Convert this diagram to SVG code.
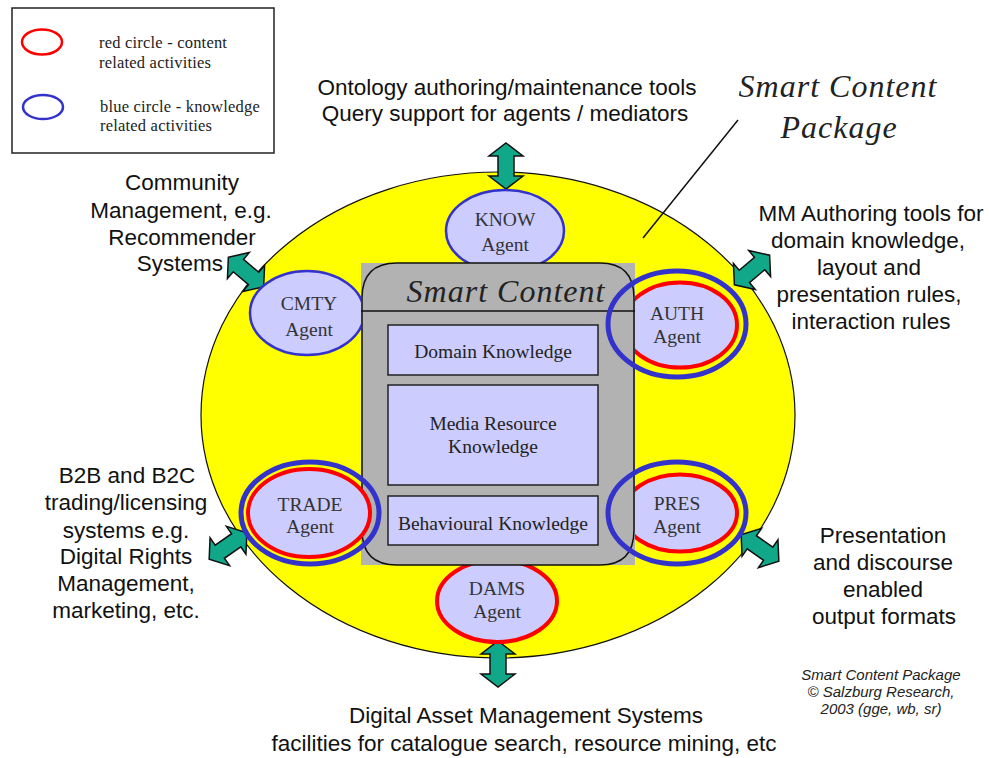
<svg xmlns="http://www.w3.org/2000/svg" width="989" height="758" viewBox="0 0 989 758">
<style>
.sans{font-family:"Liberation Sans",Arial,sans-serif;font-size:22.5px;fill:#111;text-anchor:middle}
.serif{font-family:"Liberation Serif","Times New Roman",serif;fill:#222}
.leg{font-size:16.5px;letter-spacing:0.2px}
.kb{font-size:19.5px;text-anchor:middle}
.agent{font-family:"Liberation Serif","Times New Roman",serif;font-size:19.5px;fill:#333;text-anchor:middle}
.box{fill:#ccccff;stroke:#222;stroke-width:1.5}
.lav{fill:#ccccff}
.blue{fill:none;stroke:#3333cc;stroke-width:5}
.red{stroke:#ff0000;stroke-width:4}
.title{font-family:"Liberation Serif","Times New Roman",serif;font-style:italic;font-size:32px;fill:#222;text-anchor:middle;letter-spacing:1px}
.arrow{fill:#10a888;stroke:#111;stroke-width:1.5;stroke-linejoin:miter}
</style>
<defs>
<path id="dbl" d="M -23,0 L -10,-17 L -10,-8 L 10,-8 L 10,-17 L 23,0 L 10,17 L 10,8 L -10,8 L -10,17 Z"/>
</defs>
<rect width="989" height="758" fill="#fff"/>

<g id="legend">
<rect x="12" y="8" width="262" height="145" fill="#fff" stroke="#222" stroke-width="1.5"/>
<ellipse cx="42" cy="42" rx="20" ry="12.5" fill="none" stroke="#ff0000" stroke-width="2.5"/>
<ellipse cx="43" cy="107" rx="20" ry="12" fill="none" stroke="#3333cc" stroke-width="2.5"/>
<text class="serif leg" x="99" y="48">red circle - content</text>
<text class="serif leg" x="99" y="68">related activities</text>
<text class="serif leg" x="100" y="112">blue circle - knowledge</text>
<text class="serif leg" x="100" y="131">related activities</text>
</g>

<g id="package">
<ellipse cx="498" cy="415" rx="297" ry="243" fill="#ffff00" stroke="#111" stroke-width="1.2"/>
<text class="title" x="838" y="97">Smart Content</text>
<text class="title" x="839" y="138">Package</text>
</g>

<g id="connectors">
<line x1="643" y1="238" x2="738" y2="120" stroke="#111" stroke-width="1.5"/>
<use href="#dbl" class="arrow" transform="translate(506,166) rotate(90)"/>
<use href="#dbl" class="arrow" transform="translate(498,664) rotate(90)"/>
<use href="#dbl" class="arrow" transform="translate(246,272) rotate(40)"/>
<use href="#dbl" class="arrow" transform="translate(752,270) rotate(-40)"/>
<use href="#dbl" class="arrow" transform="translate(228,546) rotate(-35)"/>
<use href="#dbl" class="arrow" transform="translate(760,548) rotate(35)"/>
</g>

<g id="know">
<ellipse cx="505" cy="231" rx="59" ry="41" class="lav" stroke="#3333cc" stroke-width="2.5"/>
<text class="agent" x="505" y="226">KNOW</text>
<text class="agent" x="505" y="251">Agent</text>
</g>
<g id="cmty">
<ellipse cx="307" cy="313" rx="57" ry="42" class="lav" stroke="#3333cc" stroke-width="2.5"/>
<text class="agent" x="309" y="310">CMTY</text>
<text class="agent" x="309" y="336">Agent</text>
</g>
<g id="dams">
<ellipse cx="497" cy="601" rx="60" ry="41" class="lav red"/>
<text class="agent" x="497" y="595">DAMS</text>
<text class="agent" x="497" y="618">Agent</text>
</g>
<g id="auth-inner">
<ellipse cx="680" cy="325" rx="57" ry="42.5" class="lav red"/>
</g>
<g id="pres-inner">
<ellipse cx="680" cy="513" rx="57" ry="38.5" class="lav red"/>
</g>

<g id="smart-content">
<rect x="361" y="263" width="274" height="302" fill="#b2b2b2"/>
<path d="M 397,263 L 600,263 Q 634,263 634,298 L 634,530 Q 634,565 600,565 L 397,565 Q 362,565 362,530 L 362,298 Q 362,263 397,263 Z" fill="none" stroke="#111" stroke-width="1.5"/>
<line x1="361" y1="311" x2="635" y2="311" stroke="#111" stroke-width="1.5"/>
<text class="title" x="506" y="302">Smart Content</text>
<rect x="388" y="325" width="210" height="50" class="box"/>
<text class="serif kb" x="493" y="358">Domain Knowledge</text>
<rect x="388" y="385" width="210" height="100" class="box"/>
<text class="serif kb" x="493" y="430">Media Resource</text>
<text class="serif kb" x="493" y="453">Knowledge</text>
<rect x="388" y="496" width="210" height="49" class="box"/>
<text class="serif kb" x="493" y="530">Behavioural Knowledge</text>
</g>

<g id="auth">
<ellipse cx="677" cy="324" rx="69" ry="53" class="blue"/>
<text class="agent" x="677" y="320">AUTH</text>
<text class="agent" x="677" y="343">Agent</text>
</g>
<g id="pres">
<ellipse cx="677" cy="513" rx="69" ry="51" class="blue"/>
<text class="agent" x="677" y="510">PRES</text>
<text class="agent" x="677" y="533">Agent</text>
</g>
<g id="trade">
<ellipse cx="309" cy="513" rx="61" ry="44" class="lav red"/>
<ellipse cx="310" cy="513" rx="69" ry="51" class="blue"/>
<text class="agent" x="310" y="511">TRADE</text>
<text class="agent" x="310" y="533">Agent</text>
</g>

<g id="labels">
<text class="sans" x="507" y="95">Ontology authoring/maintenance tools</text>
<text class="sans" x="505" y="121">Query support for agents / mediators</text>
<text class="sans" x="182" y="190">Community</text>
<text class="sans" x="181" y="218">Management, e.g.</text>
<text class="sans" x="182" y="245">Recommender</text>
<text class="sans" x="223" y="271" text-anchor="end" style="text-anchor:end">Systems</text>
<text class="sans" x="871" y="221">MM Authoring tools for</text>
<text class="sans" x="868" y="248">domain knowledge,</text>
<text class="sans" x="869" y="275">layout and</text>
<text class="sans" x="869" y="302">presentation rules,</text>
<text class="sans" x="871" y="329">interaction rules</text>
<text class="sans" x="127" y="483">B2B and B2C</text>
<text class="sans" x="126" y="510">trading/licensing</text>
<text class="sans" x="126" y="538">systems e.g.</text>
<text class="sans" x="126" y="564">Digital Rights</text>
<text class="sans" x="126" y="591">Management,</text>
<text class="sans" x="126" y="618">marketing, etc.</text>
<text class="sans" x="883" y="543">Presentation</text>
<text class="sans" x="883" y="570">and discourse</text>
<text class="sans" x="883" y="597">enabled</text>
<text class="sans" x="884" y="624">output formats</text>
<text class="sans" x="526" y="723">Digital Asset Management Systems</text>
<text class="sans" x="524" y="751">facilities for catalogue search, resource mining, etc</text>
<g font-family="'Liberation Sans',Arial,sans-serif" font-style="italic" font-size="15" fill="#222" text-anchor="middle">
<text x="881" y="680">Smart Content Package</text>
<text x="881" y="697">© Salzburg Research,</text>
<text x="881" y="714">2003 (gge, wb, sr)</text>
</g>
</g>
</svg>
